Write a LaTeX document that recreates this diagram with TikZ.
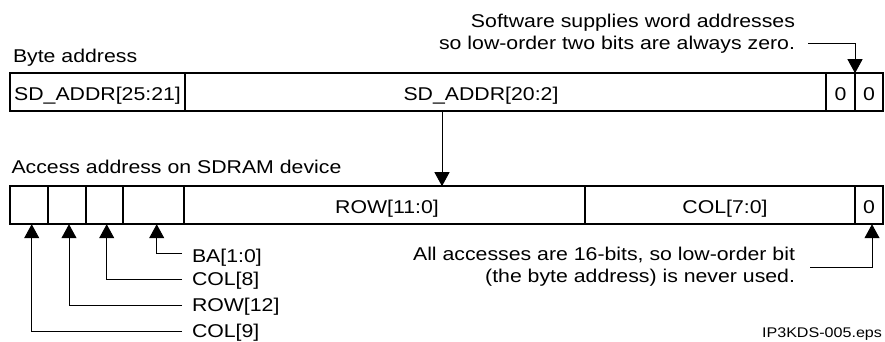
\documentclass[tikz,border=0pt]{standalone}
\usepackage{fontspec}
\setmainfont{Liberation Sans}[FakeStretch=1.15]
\usetikzlibrary{arrows.meta}
\begin{document}
\begin{tikzpicture}[x=1pt,y=-1pt,
  every node/.style={inner sep=0pt, outer sep=0pt, font=\fontsize{18.5pt}{22pt}\selectfont},
  cell/.style={draw, line width=2pt, minimum height=38pt, anchor=west,
               text height=15.6pt, text depth=0pt},
  celltext/.style={text height=15.6pt, text depth=0pt},
  lab/.style={anchor=west, text height=12pt, text depth=0pt},
  note/.style={anchor=east, align=right},
  arr/.style={line width=1pt, -{Triangle[length=14pt,width=15pt]}}]
\useasboundingbox (0,0) rectangle (885,341);

% byte address register
\node[anchor=base west] (bytelbl) at (13,62) {Byte address};
\node[cell, minimum width=175pt] (hi)  at (10,92.2)  {SD\_ADDR[25:21]};
\node[cell, minimum width=641pt] (mid) at (185,92.2) {};
\node[celltext] (midtxt) at ([xshift=-24.5pt]mid.center) {SD\_ADDR[20:2]};
\node[cell, minimum width=29pt]  (za)  at (826,92.2) {0};
\node[cell, minimum width=28pt]  (zb)  at (855,92.2) {0};

% SDRAM access address
\node[anchor=base west] (acclbl) at (11.5,173) {Access address on SDRAM device};
\node[cell, minimum width=38pt]  (b1)  at (10,205.2)  {};
\node[cell, minimum width=38pt]  (b2)  at (48,205.2)  {};
\node[cell, minimum width=37pt]  (b3)  at (86,205.2)  {};
\node[cell, minimum width=61pt]  (b4)  at (123,205.2) {};
\node[cell, minimum width=401pt] (row) at (184,205.2) {};
\node[celltext] (rowtxt) at ([xshift=2.5pt]row.center) {ROW[11:0]};
\node[cell, minimum width=270pt] (col) at (585,205.2) {};
\node[celltext] (coltxt) at ([xshift=5pt]col.center) {COL[7:0]};
\node[cell, minimum width=28pt]  (lsb) at (855,205.2) {0};

% field labels under the high bits
\node[lab] (ba)  at (192,256)   {BA[1:0]};
\node[lab] (c8)  at (192,279)   {COL[8]};
\node[lab] (r12) at (192,305.5) {ROW[12]};
\node[lab] (c9)  at (192,331)   {COL[9]};

\draw[arr] ([xshift=-10pt,yshift=3pt]ba.west) -| ([xshift=3.2pt]b4.south);
\draw[arr] ([xshift=-10pt]c8.west)  -| ([xshift=2.2pt]b3.south);
\draw[arr] ([xshift=-10pt]r12.west) -| ([xshift=2pt]b2.south);
\draw[arr] ([xshift=-10pt]c9.west)  -| ([xshift=2.7pt]b1.south);

% mapping arrow between the two registers
\coordinate (drop) at (442,150);
\draw[arr] (drop |- mid.south) -- (drop |- row.north);

% notes
\node[note] (swnote) at (795,34.2)
  {Software supplies word addresses\\so low-order two bits are always zero.};
\draw[arr] ([xshift=13pt,yshift=-8.8pt]swnote.east) -| (zb.north west);

\node[note] (lsbnote) at (795,267)
  {All accesses are 16-bits, so low-order bit\\(the byte address) is never used.};
\draw[arr] ([xshift=15pt]lsbnote.east) -| ([xshift=3pt]lsb.south);

\node[anchor=base east, font=\fontsize{14pt}{16pt}\selectfont] (fig) at (882,337) {IP3KDS-005.eps};
\end{tikzpicture}
\end{document}
